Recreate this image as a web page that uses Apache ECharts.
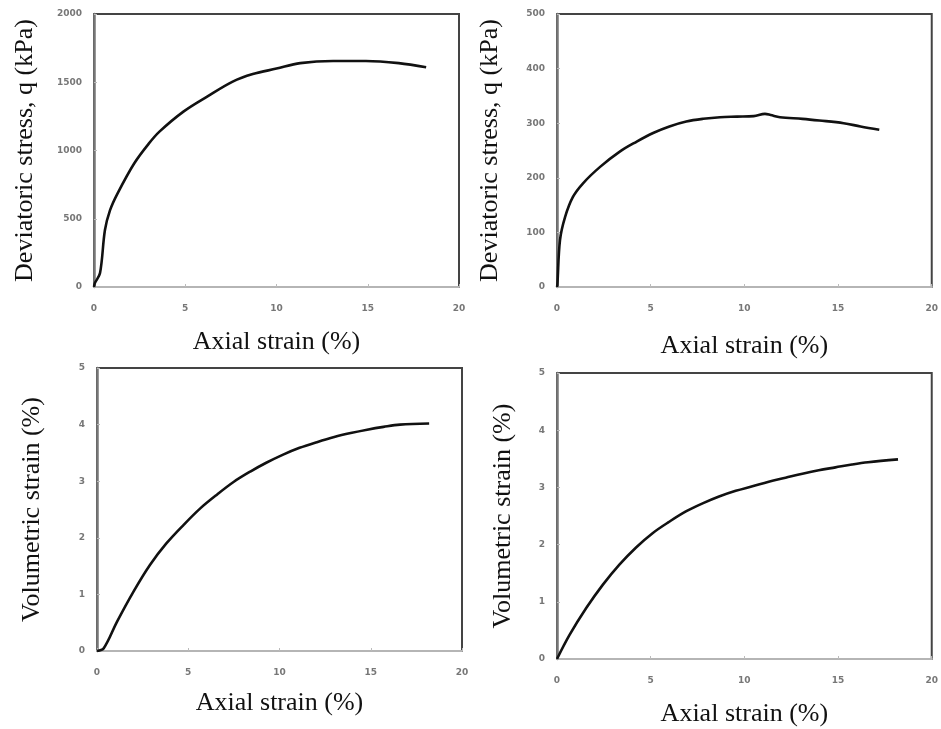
<!DOCTYPE html>
<html>
<head>
<meta charset="utf-8">
<script src="https://cdn.jsdelivr.net/npm/echarts@6/dist/echarts.min.js"></script>
<style>html,body{margin:0;padding:0;background:#fff}#c{width:941px;height:729px}</style>
</head>
<body>
<div id="c"></div>
<script>
// Top-left: deviatoric stress (kPa) vs axial strain (%)
const tlStrain = [0, 0.05, 0.33, 0.6, 0.88, 1.3, 2.2, 3.0, 3.6, 4.9, 6.2, 7.6, 8.7, 10.0, 11.3, 13.1, 14.9, 16.7, 18.2];
const tlStress = [0, 29, 102, 417, 563, 688, 905, 1050, 1140, 1285, 1395, 1505, 1560, 1600, 1640, 1656, 1656, 1640, 1610];
// Top-right
const trStrain = [0, 0.02, 0.16, 0.43, 0.85, 1.39, 2.3, 3.35, 4.24, 5.13, 6.0, 6.9, 7.8, 8.7, 9.6, 10.5, 11.1, 11.4, 11.9, 13.1, 14.0, 15.3, 16.2, 17.2];
const trStress = [0, 4, 86, 128, 165, 190, 220, 248, 266, 282, 294, 303, 308, 311, 312, 313, 317, 315, 311, 308, 305, 300, 294, 288];
// Bottom-left: volumetric strain (%) vs axial strain (%)
const blStrain = [0, 0.37, 1.1, 2.0, 2.9, 3.8, 4.75, 5.66, 6.6, 7.5, 8.4, 9.3, 10.2, 11.1, 12.05, 13.0, 13.9, 14.8, 15.7, 16.6, 18.2];
const blVol = [0, 0.05, 0.52, 1.05, 1.52, 1.9, 2.23, 2.52, 2.77, 2.99, 3.17, 3.33, 3.47, 3.59, 3.69, 3.78, 3.85, 3.91, 3.96, 4.0, 4.02];
// Bottom-right
const brStrain = [0, 0.67, 1.56, 2.45, 3.33, 4.22, 5.1, 5.99, 6.88, 7.77, 8.65, 9.54, 10.43, 11.3, 12.2, 13.1, 13.97, 14.86, 15.74, 16.6, 18.2];
const brVol = [0, 0.42, 0.89, 1.3, 1.65, 1.95, 2.2, 2.4, 2.58, 2.72, 2.84, 2.94, 3.02, 3.1, 3.17, 3.24, 3.3, 3.35, 3.4, 3.44, 3.49];

const xTicks = [0, 5, 10, 15, 20];
const yTicksTL = [0, 500, 1000, 1500, 2000];
const yTicksTR = [0, 100, 200, 300, 400, 500];
const yTicksVol = [0, 1, 2, 3, 4, 5];

const xTitle = 'Axial strain (%)';
const yTitleStress = 'Deviatoric stress, q (kPa)';
const yTitleVol = 'Volumetric strain (%)';

const zip = (a, b) => a.map((v, i) => [v, b[i]]);

const serif = '"Liberation Serif", "Times New Roman", serif';
const tickLabel = {fontSize: 9, color: '#777', fontFamily: 'DejaVu Sans', fontWeight: 'bold', formatter: v => String(v)};
const nameStyle = {fontSize: 26, color: '#111', fontFamily: serif};

const grids = [
  {left: 94, top: 14, width: 365, height: 273},
  {left: 557, top: 14, width: 375, height: 273},
  {left: 97, top: 368, width: 365, height: 283},
  {left: 557, top: 373, width: 376, height: 286}
].map(g => Object.assign(g, {show: true, borderColor: '#444', borderWidth: 2, backgroundColor: '#fff'}));

function xAxis(i, gap) {
  return {
    type: 'value', gridIndex: i, min: xTicks[0], max: xTicks[xTicks.length - 1], interval: 5,
    name: xTitle, nameLocation: 'middle', nameGap: gap, nameTextStyle: nameStyle,
    axisLine: {show: true, lineStyle: {color: '#b5b5b5', width: 2}},
    axisTick: {show: true, length: 3, inside: true, lineStyle: {color: '#bbb'}},
    axisLabel: Object.assign({margin: 17}, tickLabel),
    splitLine: {show: false}
  };
}
function yAxis(i, ticks, name, gap) {
  return {
    type: 'value', gridIndex: i, min: ticks[0], max: ticks[ticks.length - 1], interval: ticks[1] - ticks[0],
    name: name, nameLocation: 'middle', nameGap: gap, nameTextStyle: nameStyle,
    axisLine: {show: true, lineStyle: {color: '#777', width: 2.5}},
    axisTick: {show: true, length: 3, inside: true, lineStyle: {color: '#bbb'}},
    axisLabel: Object.assign({margin: 12}, tickLabel),
    splitLine: {show: false}
  };
}
function line(i, data) {
  return {
    type: 'line', xAxisIndex: i, yAxisIndex: i, data: data, smooth: 0.35, showSymbol: false,
    lineStyle: {color: '#111', width: 2.6}
  };
}

const chart = echarts.init(document.getElementById('c'), null, {renderer: 'canvas'});
chart.setOption({
  animation: false,
  backgroundColor: '#fff',
  grid: grids,
  xAxis: [xAxis(0, 42), xAxis(1, 46), xAxis(2, 39), xAxis(3, 42)],
  yAxis: [
    yAxis(0, yTicksTL, yTitleStress, 56),
    yAxis(1, yTicksTR, yTitleStress, 54),
    yAxis(2, yTicksVol, yTitleVol, 52),
    yAxis(3, yTicksVol, yTitleVol, 41)
  ],
  series: [
    line(0, zip(tlStrain, tlStress)),
    line(1, zip(trStrain, trStress)),
    line(2, zip(blStrain, blVol)),
    line(3, zip(brStrain, brVol))
  ]
});
</script>
</body>
</html>
